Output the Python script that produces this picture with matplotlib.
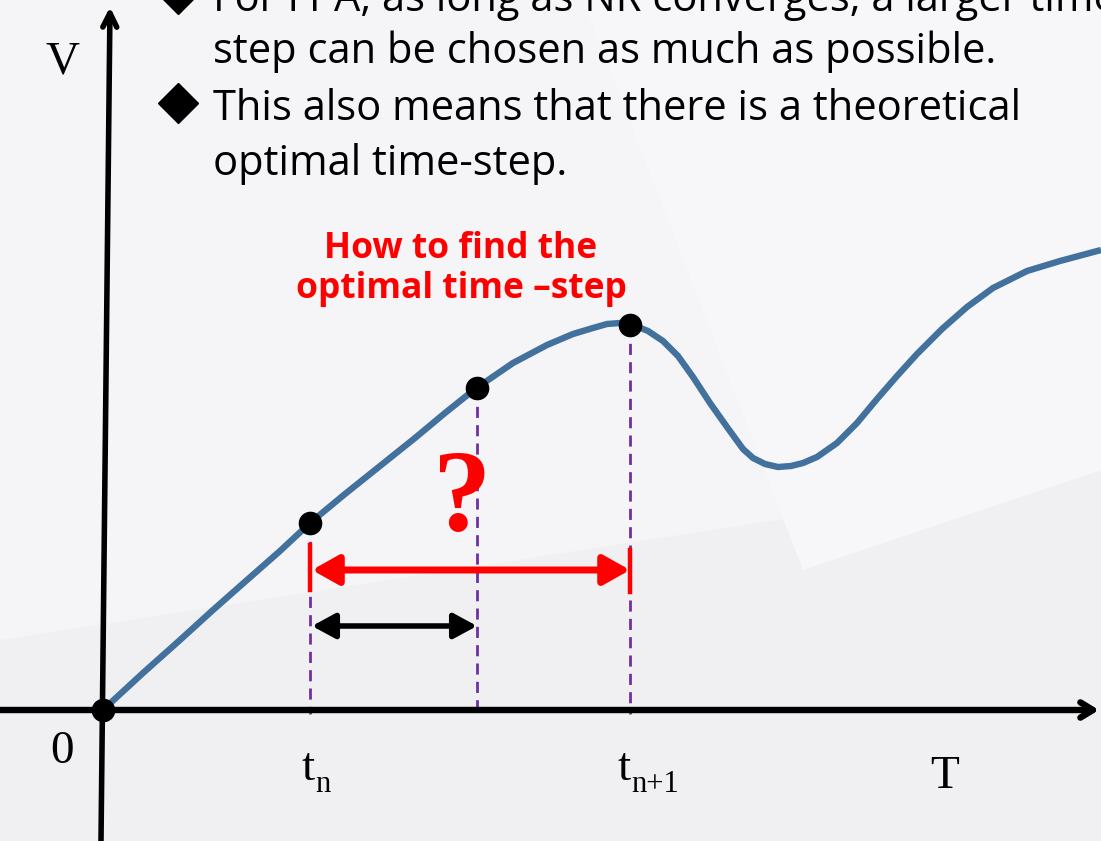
import matplotlib
matplotlib.use("Agg")
import matplotlib.pyplot as plt
from matplotlib.patches import Polygon

# waveform V(T), origin at the axis crossing
curve_t = [2, 40, 77, 110, 144, 177, 207, 242, 277, 312, 342, 372, 410, 444,
           470, 490, 504, 517, 530, 545, 560, 575, 590, 607, 624, 640, 650, 662,
           675, 688, 700, 714, 734, 754, 774, 794, 814, 839, 864, 890, 924, 957,
           998]
curve_v = [2, 37, 70, 100, 130, 159, 187, 216, 244, 272, 297, 321, 347, 365,
           376, 382, 386, 387, 385, 379, 369, 354, 333, 307, 283, 261, 252, 246,
           243, 244, 247, 253, 267, 287, 311, 334, 356, 381, 403, 422, 439, 449,
           460]

# solution points: origin, t_n, trial step, t_n+1
step_t = [0, 207, 374, 527]
step_v = [0, 187, 322, 385]

big_step_v = 140     # height of the red (optimal) step arrow
small_step_v = 84    # height of the black (small) step arrow

bullets = ["For FPA, as long as NR converges, a larger time",
           "step can be chosen as much as possible.",
           "This also means that there is a theoretical",
           "optimal time-step."]
bullet_v = [699, 647, 590, 535]
question = ["How to find the", "optimal time \u2013step"]

BLUE = '#41719C'
PURPLE = '#7030A0'
RED = '#FF0000'

fig = plt.figure(figsize=(11.01, 8.41), dpi=100)
fig.patch.set_facecolor('#f5f5f7')
ax = fig.add_axes([0, 0, 1, 1])
ax.set_xlim(-103, 998)
ax.set_ylim(-131, 710)
ax.axis('off')

# faint slide background shapes
ax.add_patch(Polygon([(-103, 70), (998, 240), (998, -131), (-103, -131)],
                     closed=True, color='#f0f0f3', lw=0, zorder=0))
ax.add_patch(Polygon([(480, 710), (998, 710), (998, 240), (700, 140)],
                     closed=True, color='#f7f7f9', lw=0, zorder=0))

# axes with open arrow heads
ax.annotate('', xy=(7, 703), xytext=(-2, -131),
            arrowprops=dict(arrowstyle='->,head_length=1.0,head_width=0.5',
                            lw=4.0, color='black', shrinkA=0, shrinkB=0,
                            capstyle='round', joinstyle='round'), zorder=3)
ax.annotate('', xy=(996, 0), xytext=(-103, 0),
            arrowprops=dict(arrowstyle='->,head_length=0.9,head_width=0.55',
                            lw=4.6, color='black', shrinkA=0, shrinkB=0,
                            capstyle='round', joinstyle='round'), zorder=3)

# waveform
ax.plot(curve_t, curve_v, color=BLUE, lw=4.6, solid_capstyle='butt',
        solid_joinstyle='round', zorder=4)

# dashed drop lines from the solution points
for t, v in zip(step_t[1:], step_v[1:]):
    ax.plot([t, t], [v, -4], color=PURPLE, lw=2.0, ls=(0, (4, 2.6)), zorder=2)

ax.plot(step_t, step_v, 'o', color='black', ms=16, zorder=6)

# step arrows
ax.annotate('', xy=(step_t[3], big_step_v), xytext=(step_t[1] + 2, big_step_v),
            arrowprops=dict(arrowstyle='<|-|>,head_length=0.8,head_width=0.45',
                            mutation_scale=20, lw=5, color=RED,
                            shrinkA=0, shrinkB=0), zorder=5)
ax.plot([step_t[1], step_t[1]], [big_step_v - 20, big_step_v + 25],
        color=RED, lw=3.2, zorder=5)
ax.plot([step_t[3], step_t[3]], [big_step_v - 22, big_step_v + 20],
        color=RED, lw=3.2, zorder=5)
ax.annotate('', xy=(step_t[2], small_step_v), xytext=(step_t[1] + 2, small_step_v),
            arrowprops=dict(arrowstyle='<|-|>,head_length=0.7,head_width=0.38',
                            mutation_scale=20, lw=4.0, color='black',
                            shrinkA=0, shrinkB=0), zorder=5)

# axis labels
serif = 'Liberation Serif'
ax.text(-41, 648, 'V', family=serif, fontsize=34, ha='center', va='center')
ax.text(-41, -42, '0', family=serif, fontsize=34, ha='center', va='center')
ax.text(199, -70, 't', family=serif, fontsize=34, ha='left', va='baseline')
ax.text(212, -82, 'n', family=serif, fontsize=22, ha='left', va='baseline')
ax.text(515, -70, 't', family=serif, fontsize=34, ha='left', va='baseline')
ax.text(528, -82, 'n+1', family=serif, fontsize=22, ha='left', va='baseline')
ax.text(842, -78, 'T', family=serif, fontsize=34, ha='center', va='baseline')

# bullet text
for s, v in zip(bullets, bullet_v):
    ax.text(110, v, s, family='Open Sans', fontsize=30, ha='left',
            va='baseline', color='black', zorder=7)
ax.plot([75, 75], [bullet_v[0] + 17, bullet_v[2] + 17], 'D', color='black',
        ms=20, zorder=7)

ax.text(358, 452, question[0], family='Open Sans', fontweight='bold',
        fontsize=25.5, color=RED, ha='center', va='baseline')
ax.text(358, 412, question[1], family='Open Sans', fontweight='bold',
        fontsize=25.5, color=RED, ha='center', va='baseline')
ax.text(359, 180, '?', family=serif, fontweight='bold', fontsize=84,
        color=RED, ha='center', va='baseline', zorder=3)

fig.savefig('out.png', dpi=100, facecolor=fig.get_facecolor())
